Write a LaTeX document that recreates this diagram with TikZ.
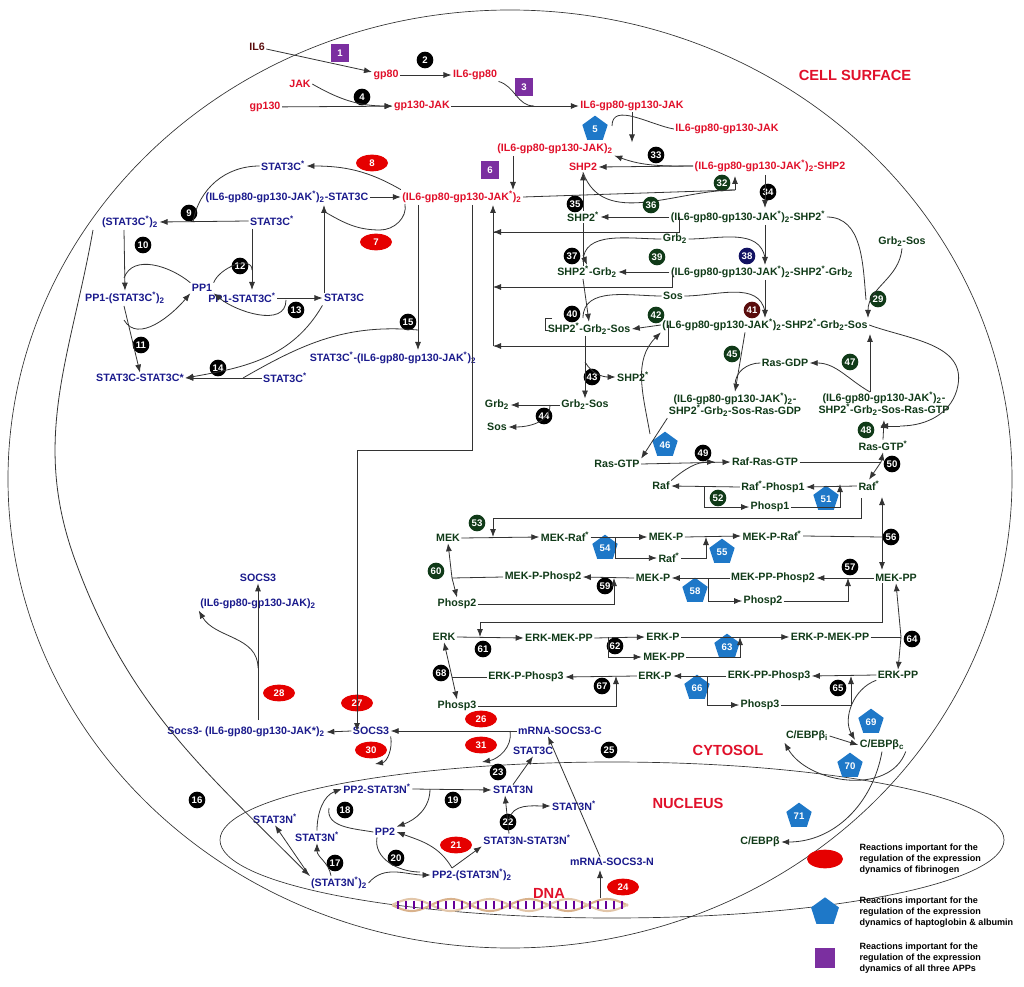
\documentclass[tikz,border=0pt]{standalone}
\usepackage{fontspec}
\setmainfont{Liberation Sans}
\usetikzlibrary{arrows.meta,shapes.geometric,calc}
\newcommand\sr{\textsuperscript{*}}
\newcommand\tw{\textsubscript{2}}
\definecolor{cr}{HTML}{E0102A}
\definecolor{cb}{HTML}{1A1A8C}
\definecolor{cg}{HTML}{103A18}
\definecolor{cbr}{HTML}{5A0D0D}
\definecolor{cp}{HTML}{7B2FA0}
\definecolor{cbl}{HTML}{1E78C8}
\begin{document}
\begin{tikzpicture}[x=0.75pt,y=-0.75pt,
 every node/.style={font=\bfseries\fontsize{8}{9}\selectfont,inner sep=1pt},
 r/.style={text=cr}, b/.style={text=cb}, g/.style={text=cg,align=center},
 n/.style={circle,fill=black,text=white,minimum size=12.5pt,inner sep=0pt,font=\bfseries\fontsize{7.2}{7}\selectfont},
 ng/.style={n,fill=cg},
 ov/.style={ellipse,fill=red!90!black,text=white,minimum width=24pt,minimum height=12.5pt,inner sep=0pt,font=\bfseries\fontsize{7.2}{7}\selectfont},
 pt/.style={regular polygon,regular polygon sides=5,fill=cbl,text=white,minimum size=20pt,inner sep=0pt,font=\bfseries\fontsize{7.2}{7}\selectfont},
 sq/.style={fill=cp,text=white,minimum size=13pt,inner sep=0pt,font=\bfseries\fontsize{7.2}{7}\selectfont},
 big/.style={text=cr,font=\bfseries\fontsize{11}{12}\selectfont},
 a/.style={-{Latex[length=6pt,width=4.5pt]},draw=black!80,line width=0.6pt},
 l/.style={draw=black!80,line width=0.6pt},
 lg/.style={text=black,align=left,font=\bfseries\fontsize{6.8}{8.2}\selectfont}]
\useasboundingbox (0,0) rectangle (1024,987);
% membranes
\draw[l,line width=0.5pt] (510,479) ellipse [x radius=502,y radius=469];
\draw[l,line width=0.5pt] (612,840) ellipse [x radius=392,y radius=78];
\node[big] at (855,75) {CELL SURFACE};
\node[big] at (728,750) {CYTOSOL};
\node[big] at (688,803) {NUCLEUS};
\node[big] at (549,893) {DNA};
% DNA helix
\draw[line width=1.6pt,brown!60] plot[domain=392:628,samples=80] (\x,{905+6*sin(4.6*(\x-392))});
\draw[line width=1.6pt,brown!45] plot[domain=392:628,samples=80] (\x,{905-6*sin(4.6*(\x-392))});
\foreach \i in {398,406,...,624}{\draw[line width=1pt,blue!60!red] (\i,901)--(\i,909);}
% ---- top
\node[text=cbr] (il6) at (257,47) {IL6};
\node[sq] at (340,53) {1};
\node[r] (gp80) at (386,75) {gp80};
\node[n] at (425,60) {2};
\node[r] (il6gp80) at (475,75) {IL6-gp80};
\node[r] (jak) at (300,84) {JAK};
\node[r] (gp130) at (265,107) {gp130};
\node[n] at (362,97) {4};
\node[r] (gp130jak) at (422,106) {gp130-JAK};
\node[sq] at (524,87) {3};
\node[r] (rec) at (632,106) {IL6-gp80-gp130-JAK};
\node[pt] at (595,129) {5};
\node[r] (rec2) at (727,129) {IL6-gp80-gp130-JAK};
\node[r] (dim) at (555,149) {(IL6-gp80-gp130-JAK)\tw};
\node[sq] at (490,170) {6};
\node[n] at (656,155) {33};
\node[r] (shp2) at (583,167) {SHP2};
\node[r] (dshp) at (770,166) {(IL6-gp80-gp130-JAK\sr)\tw-SHP2};
\node[r] (main) at (462,197) {(IL6-gp80-gp130-JAK\sr)\tw};
\node[ng] at (722,183) {32};
\node[n] at (768,192) {34};
\draw[a] (il6) -- (gp80);
\draw[a] (gp80) -- (il6gp80);
\draw[a] (gp130) -- (gp130jak);
\draw[a] (jak.east) to[out=-30,in=180] (gp130jak.west);
\draw[a] (gp130jak) -- (rec);
\draw[l] (il6gp80.south east) to[out=-15,in=180] (534,106);
\draw[a] (rec.south) -- (rec.south|-dim.north);
\draw[l] (rec2.west) to[out=170,in=90] (612,126);
\draw[a] (dshp.west) -- (shp2.east);
\draw[a] (dshp.west) to[out=180,in=-20] (dim.south east);
\draw[a] (513,156) -- (513,190);
\coordinate (u32) at (735,176);
\draw[l] (main.east) -- (735,190);
\draw[a] (735,190) -- (u32);
\draw[l] (shp2.south) to[out=-70,in=180] (735,190);
\draw[a] (765,175) -- (765,208);
% ---- SHP2 cascade
\node[g] (shp2s) at (583,217) {SHP2\sr};
\node[n] at (575,204) {35};
\node[ng] at (651,205) {36};
\node[g] (dshps) at (748,217) {(IL6-gp80-gp130-JAK\sr)\tw-SHP2\sr};
\node[g] (grb2) at (675,239) {Grb\tw};
\node[n,fill=cb!70!black] at (747,256) {38};
\node[n] at (572,256) {37};
\node[ng] at (657,257) {39};
\node[g] (sg) at (587,272) {SHP2\sr-Grb\tw};
\node[g] (dsg) at (762,272) {(IL6-gp80-gp130-JAK\sr)\tw-SHP2\sr-Grb\tw};
\node[g] (grbsos) at (902,242) {Grb\tw-Sos};
\node[g] (sos) at (673,296) {Sos};
\node[n,fill=cbr] at (752,310) {41};
\node[n] at (572,314) {40};
\node[ng] at (656,315) {42};
\node[ng] at (878,299) {29};
\node[g] (sgs) at (589,329) {SHP2\sr-Grb\tw-Sos};
\node[g] (dsgs) at (765,325) {(IL6-gp80-gp130-JAK\sr)\tw-SHP2\sr-Grb\tw-Sos};
\node[ng] at (732,354) {45};
\node[g] (rasgdp) at (785,363) {Ras-GDP};
\node[ng] at (850,362) {47};
\node[n] at (592,377) {43};
\node[g] (shp2s2) at (633,377) {SHP2\sr};
\node[g] (gs) at (585,405) {Grb\tw-Sos};
\node[g] (cgdp) at (735,405) {(IL6-gp80-gp130-JAK\sr)\tw-\\SHP2\sr-Grb\tw-Sos-Ras-GDP};
\node[g] (cgtp) at (884,404) {(IL6-gp80-gp130-JAK\sr)\tw-\\SHP2\sr-Grb\tw-Sos-Ras-GTP};
\node[g] (grb2b) at (497,405) {Grb\tw};
\node[n] at (544,416) {44};
\node[g] (sosb) at (497,427) {Sos};
\node[ng] at (866,430) {48};
\node[pt] at (665,445) {46};
\node[g] (rasgtps) at (883,446) {Ras-GTP\sr};
\node[g] (rasgtp) at (617,464) {Ras-GTP};
\node[n] at (703,453) {49};
\node[g] (rafras) at (765,462) {Raf-Ras-GTP};
\node[n] at (892,464) {50};
\draw[a] (shp2s) -- (shp2);
\draw[a] (dshps.west) -- (shp2s.east);
\draw[l] (679,217) |- (493,232);
\draw[a] (493,346) -- (493,205);
\foreach \y in {232,287,346}{\draw[a] (520,\y) -- (493,\y);}
\draw[l] (shp2s.south) -- (583,266);
\draw[a] (583,255) -- (sg.north);
\draw[l] (grb2.west) to[out=180,in=90] (583,262);
\draw[a] (765,225) -- (765,265);
\draw[l] (grb2.east) to[out=0,in=100] (765,258);
\draw[a] (dsg.west) -- (sg.east);
\draw[l] (672,272) |- (520,287);
\draw[a] (583,279) -- (sgs.north);
\draw[l] (sos.west) to[out=180,in=90] (583,318);
\draw[a] (765,280) -- (765,318);
\draw[l] (sos.east) to[out=0,in=100] (765,312);
\draw[a] (dsgs.west) -- (sgs.east);
\draw[l] (668,325) |- (520,346);
\draw[l] (552,318) -- (545,318) -- (545,330) -- (548,330);
\draw[a] (585,336) -- (gs.north);
\draw[a] (585,362) to[out=-60,in=180] (shp2s2.west);
\draw[a] (gs.west) -- (grb2b.east);
\draw[a] (550,405) to[out=-90,in=0] (sosb.east);
\draw[a] (grbsos.south) to[out=-95,in=90] (868,318);
\draw[l] (dshps.east) to[out=0,in=95] (866,300);
\draw[a] (dsgs.south) ++(-20,0) -- (cgdp.north);
\draw[l] (rasgdp.west) to[out=180,in=90] (735,385);
\draw[a] (870,392) -- (870,334);
\draw[a] (870,392) to[out=150,in=0] (rasgdp.east);
\draw[l] (dsgs.east) to[out=-20,in=80] (958,385) to[out=-100,in=0] (900,426);
\draw[a] (900,426) -- (880,426);
\draw[a] (rasgtps.north) -- (884,420);
\draw[a] (cgdp.south west) -- (rasgtp.north east);
\draw[a] (650,434) to[out=100,in=-135] (dsgs.south west);
\draw[a] (rasgtp.east) -- (rafras.west);
% ---- Raf / MEK / ERK
\node[g] (raf) at (661,486) {Raf};
\node[g] (rafp1) at (773,487) {Raf\sr-Phosp1};
\node[g] (rafs) at (869,486) {Raf\sr};
\node[ng] at (718,498) {52};
\node[g] (ph1) at (770,507) {Phosp1};
\node[pt] at (826,499) {51};
\draw[a] (raf.north east) to[out=40,in=180] (715,462);
\draw[l] (rafras.east) -- (881,462);
\draw[a] (881,462) -- (rasgtps.south);
\draw[a] (881,462) -- (rafs.north);
\draw[a] (rafs.west) -- (rafp1.east);
\draw[a] (rafp1.west) -- (raf.east);
\draw[a] (704,487) |- (ph1.west);
\draw[l] (ph1.east) -| (840,496);
\draw[a] (840,496) -- (840,484);
\node[ng] at (477,523) {53};
\node[g] (mek) at (448,538) {MEK};
\node[g] (mekraf) at (565,537) {MEK-Raf\sr};
\node[g] (mekp) at (666,537) {MEK-P};
\node[g] (mekpraf) at (772,536) {MEK-P-Raf\sr};
\node[n] at (891,537) {56};
\node[pt] at (605,548) {54};
\node[g] (rafs2) at (669,558) {Raf\sr};
\node[pt] at (722,552) {55};
\node[ng] at (436,571) {60};
\node[g] (mekpph) at (543,577) {MEK-P-Phosp2};
\node[n] at (605,586) {59};
\node[g] (mekp2) at (653,578) {MEK-P};
\node[g] (mekppph) at (773,578) {MEK-PP-Phosp2};
\node[n] at (850,567) {57};
\node[g] (mekpp) at (896,578) {MEK-PP};
\node[pt] at (695,591) {58};
\node[g] (ph2a) at (457,604) {Phosp2};
\node[g] (ph2b) at (763,601) {Phosp2};
\draw[l] (rafs.south) ++(-8,6) |- (493,518);
\draw[a] (493,518) -- (493,537);
\draw[a] (mek.east) -- (mekraf.west);
\draw[a] (mekraf.east) -- (mekp.west);
\draw[a] (615,537) |- (rafs2.west);
\draw[l] (rafs2.east) -| (706,543);
\draw[a] (706,543) -- (706,537);
\draw[a] (mekp.east) -- (mekpraf.west);
\draw[l] (mekpraf.east) -- (882,537);
\draw[a] (882,537) -- (882,497);
\draw[a] (882,537) -- (882,570);
\draw[a] (mekpp.west) -- (mekppph.east);
\draw[l] (ph2b.east) -| (848,590);
\draw[a] (848,590) -- (848,578);
\draw[a] (mekppph.west) -- (mekp2.east);
\draw[a] (708,578) |- (ph2b.west);
\draw[a] (mekp2.west) -- (mekpph.east);
\draw[l] (ph2a.east) -| (614,588);
\draw[a] (614,588) -- (614,578);
\draw[l] (mekpph.west) -- (452,578);
\draw[a] (452,578) -- (mek.south);
\draw[a] (452,578) -- (ph2a.north);
\node[g] (erk) at (444,637) {ERK};
\node[g] (erkmek) at (559,638) {ERK-MEK-PP};
\node[n] at (483,649) {61};
\node[g] (erkp) at (663,637) {ERK-P};
\node[g] (erkpmek) at (830,637) {ERK-P-MEK-PP};
\node[n] at (615,646) {62};
\node[g] (mekpp2) at (664,657) {MEK-PP};
\node[pt] at (727,647) {63};
\node[n] at (912,639) {64};
\node[n] at (441,673) {68};
\node[g] (erkpph) at (526,677) {ERK-P-Phosp3};
\node[n] at (602,686) {67};
\node[g] (erkp2) at (655,676) {ERK-P};
\node[pt] at (697,688) {66};
\node[g] (erkppph) at (769,676) {ERK-PP-Phosp3};
\node[n] at (838,688) {65};
\node[g] (erkpp) at (898,675) {ERK-PP};
\node[g] (ph3a) at (457,706) {Phosp3};
\node[g] (ph3b) at (760,705) {Phosp3};
\draw[l] (mekpp.south) ++(-14,0) |- (480,622);
\draw[a] (480,622) -- (480,637);
\draw[a] (erk.east) -- (erkmek.west);
\draw[a] (erkmek.east) -- (erkp.west);
\draw[a] (608,637) |- (mekpp2.west);
\draw[l] (mekpp2.east) -| (740,645);
\draw[a] (740,645) -- (740,637);
\draw[a] (erkp.east) -- (erkpmek.west);
\draw[l] (erkpmek.east) -- (901,637);
\draw[a] (901,637) -- (mekpp.south);
\draw[a] (901,637) -- (erkpp.north);
\draw[a] (erkpp.west) -- (erkppph.east);
\draw[l] (ph3b.east) -| (851,688);
\draw[a] (851,688) -- (851,676);
\draw[a] (erkppph.west) -- (erkp2.east);
\draw[a] (707,676) |- (ph3b.west);
\draw[a] (erkp2.west) -- (erkpph.east);
\draw[l] (ph3a.east) -| (616,688);
\draw[a] (616,688) -- (616,676);
\draw[l] (erkpph.west) -- (452,677);
\draw[a] (452,677) -- (erk.south);
\draw[a] (452,677) -- (ph3a.north);
% C/EBP
\node[pt] at (871,722) {69};
\node[g] (cebpi) at (807,736) {C/EBPβ\textsubscript{i}};
\node[g] (cebpc) at (882,745) {C/EBPβ\textsubscript{c}};
\node[pt] at (850,766) {70};
\node[pt] at (799,816) {71};
\node[g] (cebp) at (760,842) {C/EBPβ};
\draw[a] (erkpp.south west) to[out=200,in=120] (855,740);
\draw[a] (cebpi.east) -- (cebpc.west);
\draw[a] (cebpc.south east) to[out=-110,in=-60] (cebpi.south west);
\draw[a] (cebpc.south) to[out=-100,in=0] (cebp.east);
% ---- STAT3C left
\node[b] (st3a) at (283,166) {STAT3C\sr};
\node[ov] at (372,163) {8};
\node[b] (cst) at (287,197) {(IL6-gp80-gp130-JAK\sr)\tw-STAT3C};
\node[n] at (189,213) {9};
\node[b] (std) at (130,222) {(STAT3C\sr)\tw};
\node[b] (st3b) at (272,221) {STAT3C\sr};
\node[ov] at (376,242) {7};
\node[n] at (143,245) {10};
\node[n] at (240,266) {12};
\node[b] (pp1) at (202,288) {PP1};
\node[b] (pp1d) at (125,298) {PP1-(STAT3C\sr)\tw};
\node[b] (pp1s) at (242,298) {PP1-STAT3C\sr};
\node[b] (st3c) at (344,298) {STAT3C};
\node[n] at (296,310) {13};
\node[n] at (408,322) {15};
\node[n] at (141,345) {11};
\node[n] at (218,368) {14};
\node[b] (stc) at (393,358) {STAT3C\sr-(IL6-gp80-gp130-JAK\sr)\tw};
\node[b] (stst) at (140,378) {STAT3C-STAT3C*};
\node[b] (st3d) at (285,378) {STAT3C\sr};
\draw[a] (main.north west) to[out=150,in=0] (st3a.east);
\draw[a] (cst.east) -- (main.west);
\draw[l] (st3a.west) to[out=180,in=80] (193,222);
\draw[a] (st3b.west) -- (std.east);
\draw[l] (405,204) to[out=-80,in=0] (380,230) to[out=180,in=-30] (325,212);
\draw[a] (st3c.north) ++(-20,0) -- (324,205);
\draw[a] (124,230) -- (pp1d.north);
\draw[l] (pp1.north west) to[out=140,in=70] (124,278);
\draw[a] (124,306) -- (stst.north);
\draw[a] (124,320) to[out=-60,in=-130] (pp1.south west);
\draw[a] (252,229) -- (252,290);
\draw[l] (pp1.north east) to[out=70,in=90] (252,270);
\draw[a] (pp1s.east) -- (st3c.west);
\draw[a] (286,300) to[out=-90,in=-40] (pp1.south east);
\draw[a] (st3c.south west) ++(0,2) to[out=-120,in=10] (stst.east);
\draw[a] (st3d.west) -- (stst.east);
\draw[a] (418,205) -- (418,350);
\draw[l] (418,330) to[out=175,in=30] (243,378);
% SOCS3 path
\node[b] (socs3t) at (258,578) {SOCS3};
\node[b] (dimb) at (258,604) {(IL6-gp80-gp130-JAK)\tw};
\node[ov] at (279,693) {28};
\node[ov] at (357,703) {27};
\node[ov] at (481,719) {26};
\node[b] (sc) at (246,732) {Socs3- (IL6-gp80-gp130-JAK*)\tw};
\node[b] (socs3) at (371,731) {SOCS3};
\node[b] (mrc) at (560,731) {mRNA-SOCS3-C};
\node[ov] at (371,750) {30};
\node[ov] at (481,745) {31};
\node[b] (st3c2) at (533,751) {STAT3C};
\node[n] at (609,750) {25};
\node[n] at (498,772) {23};
\draw[l] (472,205) |- (357,450);
\draw[a] (357,450) -- (357,731);
\draw[a] (socs3.west) -- (sc.east);
\draw[a] (258,720) -- (socs3t.south);
\draw[a] (258,668) to[out=90,in=-60] (dimb.south west);
\draw[a] (mrc.west) -- (socs3.east);
\draw[a] (510,731) to[out=-80,in=10] (482,762);
\draw[a] (socs3.south east) to[out=-80,in=10] (375,764);
% nucleus
\node[b] (pp2st) at (377,789) {PP2-STAT3N\sr};
\node[b] (st3n) at (513,790) {STAT3N};
\node[n] at (345,810) {18};
\node[n] at (453,800) {19};
\node[b] (st3ns) at (574,806) {STAT3N\sr};
\node[b] (st3nl) at (275,819) {STAT3N\sr};
\node[b] (st3nm) at (317,837) {STAT3N\sr};
\node[n] at (508,822) {22};
\node[b] (pp2) at (385,832) {PP2};
\node[b] (stst2) at (527,840) {STAT3N-STAT3N\sr};
\node[ov] at (456,845) {21};
\node[n] at (335,863) {17};
\node[n] at (396,858) {20};
\node[b] (mrn) at (612,862) {mRNA-SOCS3-N};
\node[b] (std2) at (339,883) {(STAT3N\sr)\tw};
\node[b] (ppd) at (472,875) {PP2-(STAT3N\sr)\tw};
\node[ov] at (623,887) {24};
\node[n] at (197,800) {16};
\draw[a] (st3n.north) -- (st3c2.south);
\draw[a] (mrn.north) ++(-12,0) -- ($(mrc.south)+(-12,0)$);
\draw[a] (600,898) -- (600,870);
\draw[a] (93,230) to[out=-100,in=110] (75,560) to[out=-70,in=135] (std2.north west);
\draw[a] (std2.north west) -- (st3nl.south);
\draw[a] (std2.north) ++(-8,0) to[out=100,in=-90] (st3nm.south);
\draw[a] (st3nm.north) to[out=90,in=-160] (pp2st.west);
\draw[l] (pp2.west) to[out=170,in=-100] (329,808);
\draw[a] (pp2st.east) -- (st3n.west);
\draw[a] (430,789) to[out=-90,in=20] (pp2.north east);
\draw[a] (std2.east) to[out=50,in=180] (ppd.west);
\draw[l] (pp2.south) ++(-8,0) to[out=-100,in=180] (420,872);
\draw[a] (452,868) -- (stst2.south west);
\draw[a] (452,868) to[out=120,in=-20] (pp2.east);
\draw[a] (stst2.north) ++(-18,0) -- ($(st3n.south)+(-8,0)$);
\draw[a] (509,820) to[out=80,in=180] (st3ns.west);
% legend
\node[ov,minimum width=27pt,minimum height=14pt] at (825,859) {};
\node[pt,minimum size=22pt] at (825,912) {};
\node[sq,minimum size=15pt] at (825,958) {};
\node[lg,anchor=west] at (858,859) {Reactions important for the\\regulation of the expression\\dynamics of fibrinogen};
\node[lg,anchor=west] at (858,912) {Reactions important for the\\regulation of the expression\\dynamics of haptoglobin \& albumin};
\node[lg,anchor=west] at (858,958) {Reactions important for the\\regulation of the expression\\dynamics of all three APPs};
\end{tikzpicture}
\end{document}
